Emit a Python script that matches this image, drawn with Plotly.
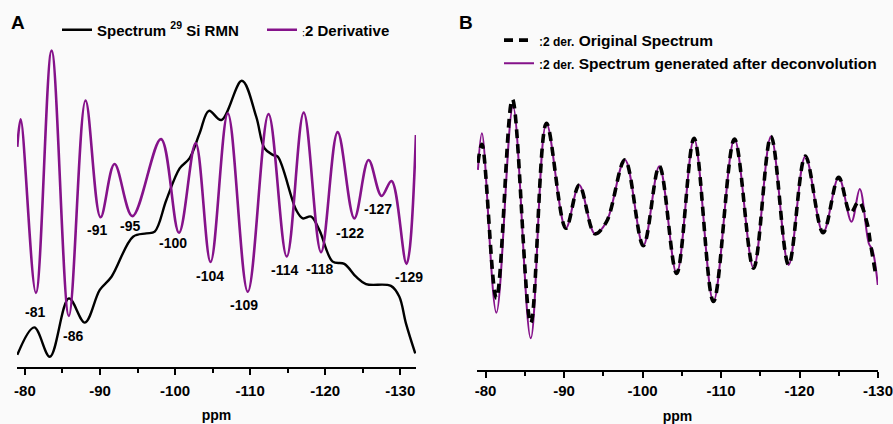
import plotly.graph_objects as go

# ---------------- Panel A data (ppm, arbitrary intensity units) ----------------
a_deriv_ppm = [-78.98, -79.43, -81.46, -83.55, -85.85, -88.07, -90.07, -91.93, -94.32,
               -98.12, -100.52, -102.74, -104.73, -107.03, -109.69, -112.45, -114.88,
               -117.14, -119.45, -121.66, -123.88, -125.78, -127.51, -128.84, -130.84, -132.09]
a_deriv_val = [60.0, 67.5, 20.2, 86.2, 13.9, 72.6, 40.8, 55.3, 41.1,
               62.1, 36.6, 61.0, 28.6, 69.1, 20.5, 68.9, 30.1,
               69.3, 31.3, 64.0, 40.5, 56.4, 46.6, 50.7, 28.1, 63.2]

a_spec_ppm = [-78.98, -81.24, -83.32, -85.85, -87.98, -89.97, -91.53, -94.40, -96.18, -97.29,
              -98.84, -100.61, -101.94, -103.27, -104.51, -106.16, -108.90, -110.81, -111.91,
              -113.02, -113.68, -116.13, -117.01, -118.12, -119.23, -121.00, -122.55, -124.11,
              -125.44, -128.76, -129.87, -130.76, -132.00]
a_spec_val = [3.3, 10.8, 2.8, 18.7, 12.1, 21.0, 24.6, 35.5, 36.4, 36.9,
              45.5, 54.1, 56.9, 63.7, 69.8, 67.3, 78.0, 68.2, 59.6,
              57.8, 57.3, 42.8, 40.5, 41.0, 37.3, 28.7, 28.1, 24.6,
              22.6, 22.1, 19.2, 11.9, 3.7]

a_min_labels = ["-81", "-86", "-91", "-95", "-100", "-104", "-109", "-114", "-118", "-122", "-127", "-129"]

# ---------------- Panel B data ----------------
b_gen_ppm = [-79.02, -79.53, -81.37, -83.49, -85.75, -87.75, -90.22, -91.92, -93.92, -95.41,
             -97.75, -100.09, -102.13, -104.34, -106.56, -109.03, -111.71, -114.14, -116.36,
             -118.61, -120.74, -123.00, -124.99, -126.62, -127.68, -128.83, -129.30, -129.97]
b_gen_val = [54.1, 64.0, 15.5, 71.2, 8.6, 66.7, 38.3, 50.0, 36.8, 40.1,
             56.8, 33.6, 55.1, 26.1, 62.6, 18.5, 62.4, 27.5, 63.1,
             28.4, 57.8, 37.1, 52.1, 40.1, 48.9, 34.2, 32.4, 23.0]

b_orig_ppm = [-79.02, -79.53, -81.37, -83.41, -85.75, -87.75, -90.22, -91.92, -93.92, -95.41,
              -97.75, -100.09, -102.13, -104.34, -106.56, -109.03, -111.71, -114.14, -116.36,
              -118.61, -120.74, -123.00, -124.99, -126.48, -127.55, -128.62, -129.04, -129.68]
b_orig_val = [56.0, 61.0, 19.4, 73.2, 12.7, 66.7, 38.3, 50.0, 36.8, 40.1,
              56.8, 33.6, 55.1, 26.1, 62.6, 18.5, 62.4, 27.5, 63.1,
              28.4, 57.8, 37.1, 52.1, 42.4, 45.5, 39.6, 34.2, 26.1]

x_ticks = [-80, -90, -100, -110, -120, -130]

PURPLE = "#85128a"
FONT = "Liberation Sans, Arial, sans-serif"
BG = "#fafafa"

fig = go.Figure()

fig.add_trace(go.Scatter(
    x=a_spec_ppm, y=a_spec_val, mode="lines", name="Spectrum <sup>29</sup> Si RMN",
    line=dict(color="black", width=2.4, shape="spline", smoothing=1.0),
    xaxis="x", yaxis="y", legend="legend"))
fig.add_trace(go.Scatter(
    x=a_deriv_ppm, y=a_deriv_val, mode="lines",
    name="<span style='font-size:9px'>ː</span>2 Derivative",
    line=dict(color=PURPLE, width=2.6, shape="spline", smoothing=1.0),
    xaxis="x", yaxis="y", legend="legend"))

fig.add_trace(go.Scatter(
    x=b_gen_ppm, y=b_gen_val, mode="lines",
    name="<span style='font-size:12px'>ː2 der.</span> Spectrum generated after deconvolution",
    line=dict(color=PURPLE, width=2.0, shape="spline", smoothing=1.0),
    xaxis="x2", yaxis="y2", legend="legend2", legendrank=2))
fig.add_trace(go.Scatter(
    x=b_orig_ppm, y=b_orig_val, mode="lines",
    name="<span style='font-size:12px'>ː2 der.</span> Original Spectrum",
    line=dict(color="black", width=3.6, dash="9px,6px", shape="spline", smoothing=1.0),
    xaxis="x2", yaxis="y2", legend="legend2", legendrank=1))

# minima labels in panel A
mins = [i for i in range(1, len(a_deriv_val) - 1)
        if a_deriv_val[i] < a_deriv_val[i - 1] and a_deriv_val[i] < a_deriv_val[i + 1]]
yshifts = [-19, -20, -13, -10, -10, -14, -13, -13, -17, -15, -13, -13]
xshifts = [-1, 4, -4, -2, -6, -1, -4, -2, -2, -4, -4, 2]
annotations = []
for k, i in enumerate(mins):
    annotations.append(dict(
        x=a_deriv_ppm[i], y=a_deriv_val[i], xref="x", yref="y", text=a_min_labels[k],
        showarrow=False, xanchor="center", yanchor="middle",
        yshift=yshifts[k], xshift=xshifts[k],
        font=dict(family=FONT, size=14, color="black", weight="bold")))

annotations += [
    dict(x=18 / 893, y=1 - 22 / 424, xref="paper", yref="paper", text="A", showarrow=False,
         xanchor="center", yanchor="middle", font=dict(family=FONT, size=19, color="black", weight="bold")),
    dict(x=466 / 893, y=1 - 22 / 424, xref="paper", yref="paper", text="B", showarrow=False,
         xanchor="center", yanchor="middle", font=dict(family=FONT, size=19, color="black", weight="bold")),
]

def axis_style(label_standoff, title_standoff):
    return dict(
        tickvals=x_ticks, ticktext=[str(v) for v in x_ticks],
        showline=True, linecolor="black", linewidth=2.2,
        ticks="outside", ticklen=6, tickwidth=2.2, tickcolor="black",
        ticklabelstandoff=label_standoff, ticklabeloverflow="allow",
        minor=dict(dtick=5, tick0=-80, ticks="outside", ticklen=4, tickwidth=2, tickcolor="black"),
        showgrid=False, zeroline=False,
        tickfont=dict(family=FONT, size=15, color="black", weight="bold"),
        title=dict(text="ppm", font=dict(family=FONT, size=14, color="black", weight="bold"),
                   standoff=title_standoff),
    )

fig.update_layout(
    width=893, height=424,
    margin=dict(l=0, r=0, t=0, b=0, autoexpand=False),
    paper_bgcolor=BG, plot_bgcolor=BG,
    xaxis=dict(domain=[17 / 893, 416 / 893], range=[-78.94, -132.1], anchor="y", **axis_style(3, 12)),
    yaxis=dict(domain=[57 / 424, 1], range=[0, 100], visible=False, anchor="x"),
    xaxis2=dict(domain=[477 / 893, 878 / 893], range=[-78.9, -130.0], anchor="y2", **axis_style(0, 15)),
    yaxis2=dict(domain=[54 / 424, 1], range=[0, 100], visible=False, anchor="x2"),
    legend=dict(orientation="h", x=57 / 893, xanchor="left", y=1 - 30 / 424, yanchor="middle",
                bgcolor="rgba(0,0,0,0)", itemwidth=30, entrywidth=160,
                font=dict(family=FONT, size=15, color="black", weight="bold")),
    legend2=dict(orientation="v", x=499 / 893, xanchor="left", y=1 - 52 / 424, yanchor="middle",
                 bgcolor="rgba(0,0,0,0)", itemwidth=30, tracegroupgap=0,
                 font=dict(family=FONT, size=15.5, color="black", weight="bold")),
    annotations=annotations,
    showlegend=True,
)

fig.write_html("out.html")
